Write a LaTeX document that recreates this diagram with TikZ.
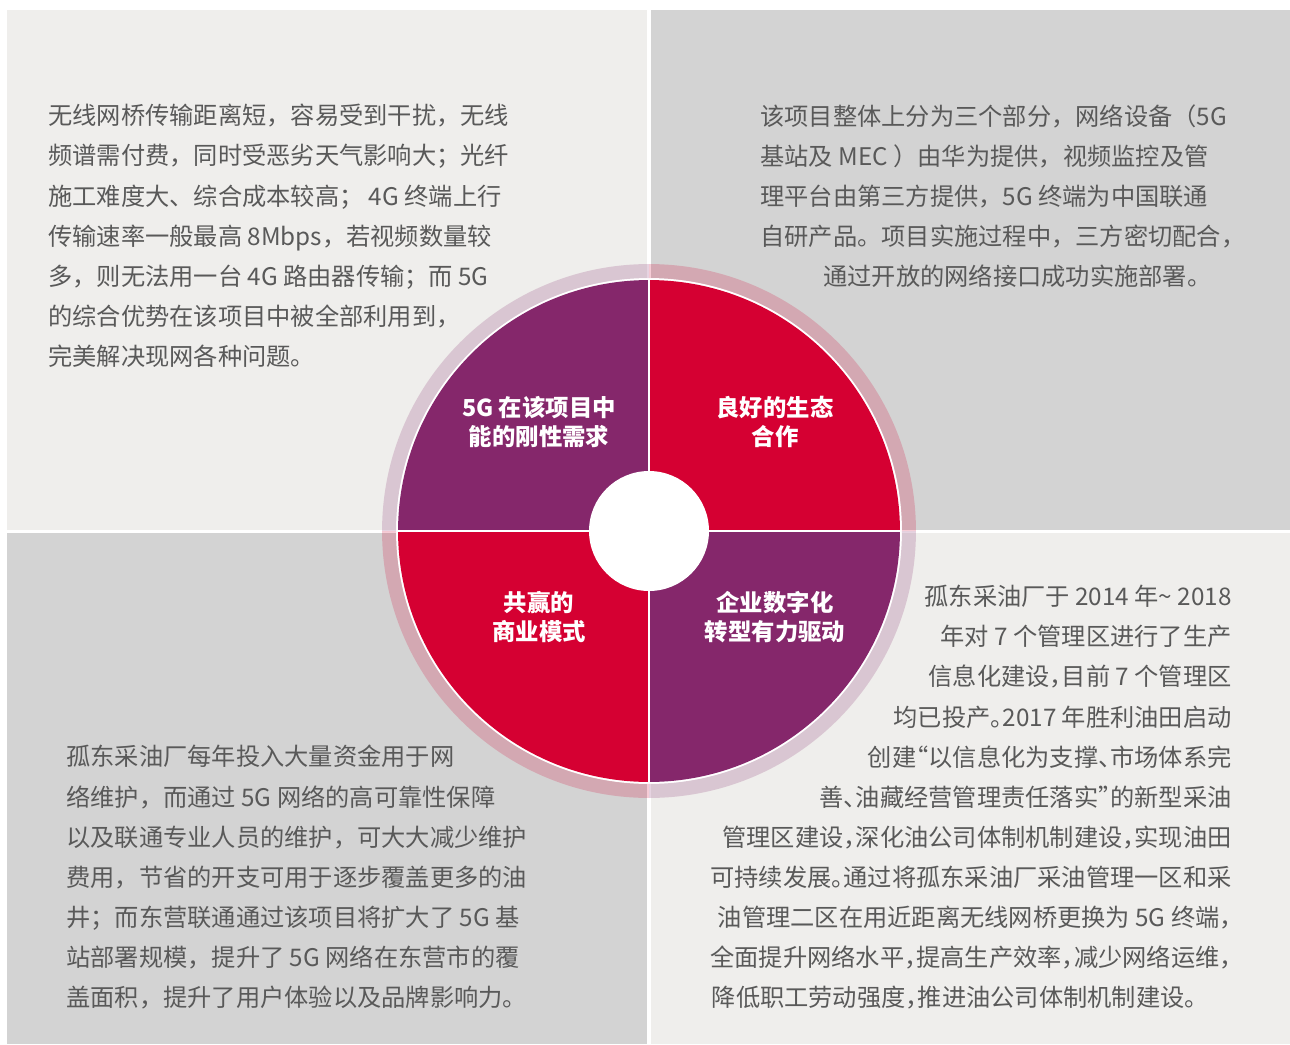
\documentclass[tikz,border=0pt]{standalone}
\usepackage{fontspec}
\setmainfont{Noto Sans CJK SC}
\newfontfamily\compacta{Noto Sans CJK SC}[RawFeature=+halt]
\usetikzlibrary{calc}
\definecolor{morado}{HTML}{85276B}
\definecolor{rojo}{HTML}{D50032}
\definecolor{fondoclaro}{HTML}{EFEEEC}
\definecolor{fondogris}{HTML}{D3D3D3}
\definecolor{grisletra}{HTML}{595959}
\begin{document}
\begin{tikzpicture}[x=0.02cm, y=-0.02cm,
    texto/.style={inner sep=0, text=grisletra, align=left,
      font={\fontsize{13.8}{22.8}\selectfont}},
    rotulo/.style={inner sep=0, text=white, align=center,
      font={\bfseries\fontsize{13.3}{16.5}\selectfont}}]
  \useasboundingbox (0,0) rectangle (1290,1044);
  \fill[white] (0,0) rectangle (1290,1044);
  % fondos
  \fill[fondoclaro] (7,10) rectangle (647,530);
  \fill[fondogris] (651,10) rectangle (1290,530);
  \fill[fondogris] (7,533) rectangle (647,1044);
  \fill[fondoclaro] (651,533) rectangle (1290,1044);
  % circulo
  \coordinate (c) at (649,531);
  \fill[white] (c) circle[radius=5.06cm];
  \foreach \a/\col in {0/rojo, 90/morado, 180/rojo, 270/morado}{
    \fill[\col, opacity=.2] ($(c)+(\a:5.34cm)$) arc[start angle=\a, delta angle=90, radius=5.34cm]
      -- ($(c)+(\a+90:5.06cm)$) arc[start angle=\a+90, delta angle=-90, radius=5.06cm] -- cycle;
    \fill[\col] (c) -- ($(c)+(\a:5.02cm)$) arc[start angle=\a, delta angle=90, radius=5.02cm] -- cycle;
  }
  \draw[white, line width=.05cm] (c) ++(-252,0) -- ++(504,0);
  \draw[white, line width=.05cm] (c) ++(0,-252) -- ++(0,504);
  \fill[white] (c) circle[radius=1.2cm];
  % rotulos
  \node[rotulo] (necesidad) at (539,422) {5G 在该项目中\\能的刚性需求};
  \node[rotulo] (ecologia) at (775,422) {良好的生态\\合作};
  \node[rotulo] (negocio) at (539,617) {共赢的\\商业模式};
  \node[rotulo] (digital) at (775,617) {企业数字化\\转型有力驱动};
  % textos
  \node[texto, anchor=north west] (problemas) at (48,104) {%
    无线网桥传输距离短，容易受到干扰，无线\\
    频谱需付费，同时受恶劣天气影响大；光纤\\
    施工难度大、综合成本较高； 4G 终端上行\\
    传输速率一般最高 8Mbps，若视频数量较\\
    多，则无法用一台 4G 路由器传输；而 5G\\
    的综合优势在该项目中被全部利用到，\\
    完美解决现网各种问题。};
  \node[texto, anchor=north west] (proyecto) at (760,104) {%
    该项目整体上分为三个部分，网络设备（5G\\
    基站及 MEC ）由华为提供，视频监控及管\\
    理平台由第三方提供，5G 终端为中国联通\\
    自研产品。项目实施过程中，三方密切配合，\\
    \hspace*{1.26cm}通过开放的网络接口成功实施部署。};
  \node[texto, anchor=north west] (ahorro) at (66,745) {%
    孤东采油厂每年投入大量资金用于网\\
    络维护，而通过 5G 网络的高可靠性保障\\
    以及联通专业人员的维护，可大大减少维护\\
    费用，节省的开支可用于逐步覆盖更多的油\\
    井；而东营联通通过该项目将扩大了 5G 基\\
    站部署规模，提升了 5G 网络在东营市的覆\\
    盖面积，提升了用户体验以及品牌影响力。};
  \node[texto, align=right, anchor=north east, font={\compacta\fontsize{13.8}{22.8}\selectfont}] (gudong) at (1232,585) {%
    孤东采油厂于 2014 年\textasciitilde{} 2018\\
    年对 7 个管理区进行了生产\\
    信息化建设，目前 7 个管理区\\
    均已投产。2017 年胜利油田启动\\
    创建“以信息化为支撑、市场体系完\\
    善、油藏经营管理责任落实”的新型采油\\
    管理区建设，深化油公司体制机制建设，实现油田\\
    可持续发展。通过将孤东采油厂采油管理一区和采\\
    油管理二区在用近距离无线网桥更换为 5G 终端，\\
    全面提升网络水平，提高生产效率，减少网络运维，\\
    \makebox[10.4cm][l]{降低职工劳动强度，推进油公司体制机制建设。}};
\end{tikzpicture}
\end{document}
